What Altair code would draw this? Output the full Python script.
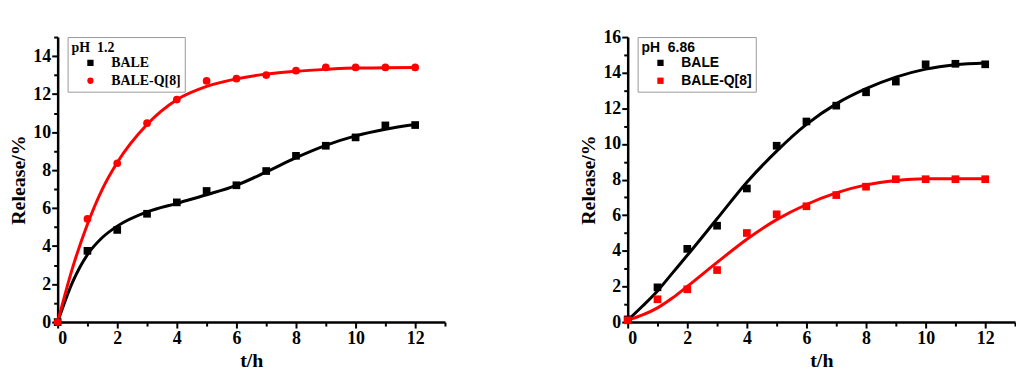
import altair as alt
import pandas as pd

# ---- data ----
t = list(range(13))
series = ["BALE", "BALE-Q[8]"]

ph12_bale = [0, 3.75, 4.85, 5.7, 6.3, 6.9, 7.2, 7.95, 8.75, 9.28, 9.72, 10.35, 10.37]
ph12_q8 = [0, 5.43, 8.36, 10.47, 11.71, 12.69, 12.81, 13.0, 13.23, 13.4, 13.4, 13.4, 13.4]
ph686_bale = [0.15, 1.95, 4.11, 5.41, 7.5, 9.9, 11.26, 12.15, 12.9, 13.5, 14.47, 14.5, 14.47]
ph686_q8 = [0.1, 1.28, 1.84, 2.92, 5.0, 6.05, 6.5, 7.13, 7.6, 8.02, 8.02, 8.02, 8.02]

# fitted curves, read at these times
fit_t = [0, 0.5, 1, 1.5, 2, 3, 4, 5, 6, 7, 8, 9, 10, 11, 12]
ph12_bale_fit = [0, 2.1, 3.55, 4.45, 5.05, 5.8, 6.25, 6.7, 7.2, 7.9, 8.65, 9.3, 9.8, 10.15, 10.4]
ph12_q8_fit = [0, 2.85, 5.15, 7.0, 8.4, 10.4, 11.7, 12.4, 12.8, 13.05, 13.2, 13.3, 13.37, 13.38, 13.4]
ph686_bale_fit = [0.1, 0.9, 1.75, 2.75, 3.75, 5.8, 7.85, 9.6, 11.1, 12.25, 13.1, 13.75, 14.2, 14.45, 14.55]
ph686_q8_fit = [0.1, 0.4, 0.8, 1.35, 2.0, 3.35, 4.65, 5.75, 6.6, 7.25, 7.7, 7.95, 8.05, 8.05, 8.05]

SERIF = "Liberation Serif"
SANS = "Liberation Sans"
COLORS = ["black", "#ff0000"]


def panel(title, legend_font, bale, q8, bale_fit, q8_fit, ymax, shapes):
    pts = pd.DataFrame({"t": t + t, "v": bale + q8,
                        "s": [series[0]] * len(t) + [series[1]] * len(t)})
    fit = pd.DataFrame({"t": fit_t + fit_t, "v": bale_fit + q8_fit,
                        "s": [series[0]] * len(fit_t) + [series[1]] * len(fit_t)})

    common_axis = dict(
        domainColor="black", domainWidth=2.5, tickColor="black", tickWidth=2,
        labelFont=SERIF, labelFontWeight="bold", labelFontSize=18, labelColor="black",
        titleFont=SERIF, titleFontWeight="bold", titleFontSize=20, titleColor="black",
        grid=False,
        tickSize={"condition": {"test": "datum.value % 2 === 0", "value": 6}, "value": 4},
    )
    xaxis = alt.Axis(title="t/h", values=list(range(14)),
                     labelExpr="datum.value % 2 === 0 && datum.value <= 12 ? datum.label : ''",
                     labelPadding=2, titlePadding=3, **common_axis)
    yaxis = alt.Axis(title="Release/%", values=list(range(ymax + 1)),
                     labelExpr="datum.value % 2 === 0 ? datum.label : ''",
                     labelPadding=1, titlePadding=4, **common_axis)

    x = alt.X("t:Q", scale=alt.Scale(domain=[0, 13], nice=False), axis=xaxis)
    y = alt.Y("v:Q", scale=alt.Scale(domain=[0, ymax], nice=False), axis=yaxis)

    line_layers = [
        alt.Chart(fit).transform_filter(alt.datum.s == name)
        .mark_line(strokeWidth=3, interpolate="monotone", color=col)
        .encode(x=x, y=y)
        for name, col in zip(series, COLORS)
    ]

    legend = alt.Legend(
        title=title, orient="none", legendX=10, legendY=0,
        strokeColor="#999999", fillColor="white", padding=4,
        titleFont=legend_font, titleFontSize=14, titleFontWeight="bold", titleColor="black",
        titleAlign="left", titlePadding=1,
        labelFont=legend_font, labelFontSize=14, labelFontWeight="bold", labelColor="black",
        symbolOffset=12, symbolSize=40, symbolStrokeWidth=0, rowPadding=4, labelOffset=14,
    )
    points = alt.Chart(pts).mark_point(filled=True, size=60, opacity=1).encode(
        x=x, y=y,
        color=alt.Color("s:N", scale=alt.Scale(domain=series, range=COLORS), legend=legend),
        shape=alt.Shape("s:N", scale=alt.Scale(domain=series, range=shapes), legend=legend),
    )
    return alt.layer(*line_layers, points).properties(width=390, height=287)


left = panel("pH\u00a0\u00a01.2", SERIF, ph12_bale, ph12_q8, ph12_bale_fit, ph12_q8_fit, 15,
             ["square", "circle"])
right = panel("pH\u00a0\u00a06.86", SANS, ph686_bale, ph686_q8, ph686_bale_fit, ph686_q8_fit, 16,
              ["square", "square"])

chart = alt.hconcat(left, right, spacing=134).resolve_scale(
    color="independent", shape="independent").resolve_legend(
    color="independent", shape="independent").properties(
    padding={"left": 1, "top": 19, "right": 0, "bottom": 0}, background="white"
).configure_view(stroke=None)

chart.save("out.html", embed_options={"renderer": "svg", "actions": False})
